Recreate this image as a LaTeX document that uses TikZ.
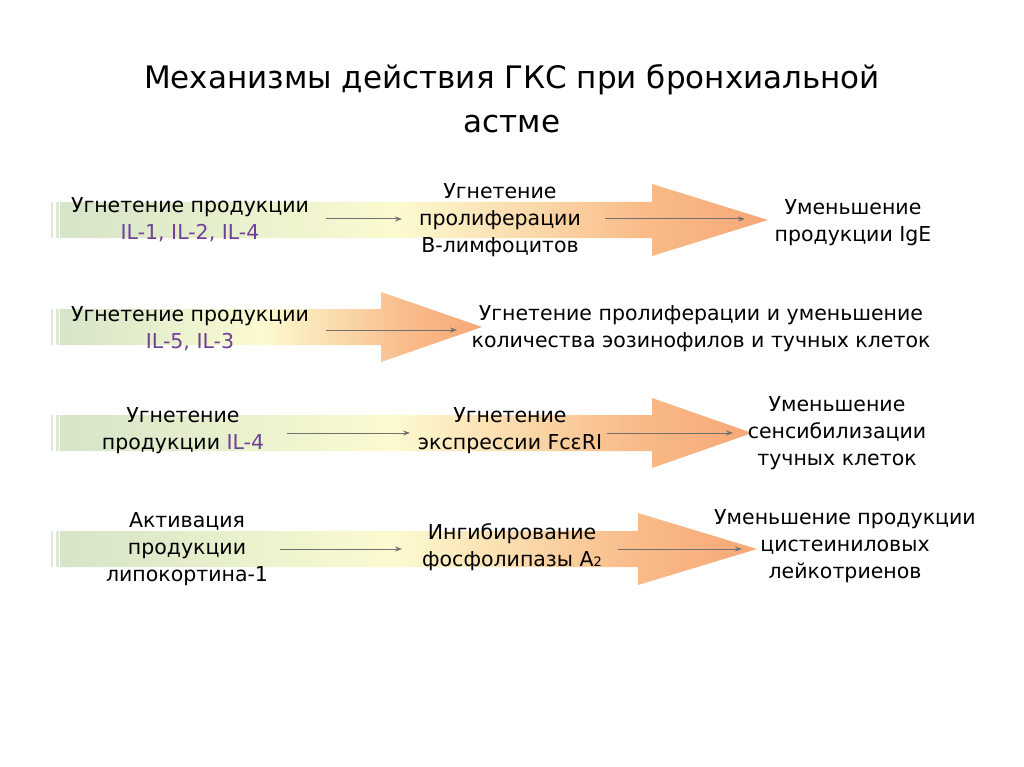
\documentclass[tikz,border=0pt]{standalone}
\usepackage{fontspec}
\setmainfont{DejaVu Sans}
\usetikzlibrary{arrows.meta}
\definecolor{ilpurple}{RGB}{112,64,150}
\definecolor{sgA}{RGB}{214,228,200}
\definecolor{sgB}{RGB}{236,243,206}
\definecolor{sgC}{RGB}{252,250,208}
\definecolor{sgD}{RGB}{251,222,176}
\definecolor{sgE}{RGB}{249,188,138}
\definecolor{sgF}{RGB}{247,168,118}
\definecolor{stripe}{RGB}{222,232,214}
\definecolor{thin}{RGB}{112,112,112}
\pgfdeclarehorizontalshading{gksshade}{100bp}{color(0bp)=(sgA); color(25bp)=(sgA); color(40bp)=(sgB); color(49bp)=(sgC); color(57bp)=(sgD); color(66bp)=(sgE); color(75bp)=(sgF); color(100bp)=(sgF)}
\newcommand\gksarrow[6]{%
  \shade[shading=gksshade] (#1,#4-#5) -- (#2,#4-#5) -- (#2,#4-#6) -- (#3,#4) -- (#2,#4+#6) -- (#2,#4+#5) -- (#1,#4+#5) -- cycle;
  \fill[stripe] (51,#4-#5) rectangle (53,#4+#5);
  \fill[stripe] (56,#4-#5) rectangle (58.5,#4+#5);
}
\tikzset{
  txt/.style={align=center, font=\fontsize{20.5}{27}\selectfont, inner sep=0pt},
  ttl/.style={align=center, font=\fontsize{31}{44}\selectfont, inner sep=0pt},
  conn/.style={draw=thin, line width=1pt, -{Stealth[length=7pt,width=5pt]}},
}
\newcommand\il[1]{\textcolor{ilpurple}{#1}}
\begin{document}
\begin{tikzpicture}[x=1pt,y=-1pt]
\useasboundingbox[fill=white] (0,0) rectangle (1024,767);
% big arrows
\gksarrow{60}{652}{768}{220}{18}{36}
\gksarrow{60}{381}{482}{327}{18}{35}
\gksarrow{60}{652}{752}{433}{18}{35}
\gksarrow{60}{638}{757}{549}{18}{36}
% title
\node[ttl] (title) at (512,99) {Механизмы действия ГКС при бронхиальной\\астме};
% row 1
\node[txt] (r1a) at (190,220) {Угнетение продукции\\\il{IL-1, IL-2, IL-4}};
\node[txt] (r1b) at (500,220) {Угнетение\\пролиферации\\В-лимфоцитов};
\node[txt] (r1c) at (853,223) {Уменьшение\\продукции IgE};
% row 2
\node[txt] (r2a) at (190,329) {Угнетение продукции\\\il{IL-5, IL-3}};
\node[txt] (r2b) at (701,329) {Угнетение пролиферации и уменьшение\\количества эозинофилов и тучных клеток};
% row 3
\node[txt] (r3a) at (183,431) {Угнетение\\продукции \il{IL-4}};
\node[txt] (r3b) at (510,431) {Угнетение\\экспрессии FcεRI};
\node[txt] (r3c) at (837,433) {Уменьшение\\сенсибилизации\\тучных клеток};
% row 4
\node[txt] (r4a) at (187,549) {Активация\\продукции\\липокортина-1};
\node[txt] (r4b) at (512,547) {Ингибирование\\фосфолипазы A{\fontsize{13}{13}\selectfont 2}};
\node[txt] (r4c) at (845,546) {Уменьшение продукции\\цистеиниловых\\лейкотриенов};
% connector ends
\coordinate (c1s) at (326,219); \coordinate (c1e) at (402,219);
\coordinate (c2s) at (605,219); \coordinate (c2e) at (745,219);
\coordinate (c3s) at (326,330); \coordinate (c3e) at (457,330);
\coordinate (c4s) at (287,433); \coordinate (c4e) at (410,433);
\coordinate (c5s) at (607,433); \coordinate (c5e) at (733,433);
\coordinate (c6s) at (280,549); \coordinate (c6e) at (402,549);
\coordinate (c7s) at (618,549); \coordinate (c7e) at (742,549);
\draw[conn] (c1s) -- (c1e);
\draw[conn] (c2s) -- (c2e);
\draw[conn] (c3s) -- (c3e);
\draw[conn] (c4s) -- (c4e);
\draw[conn] (c5s) -- (c5e);
\draw[conn] (c6s) -- (c6e);
\draw[conn] (c7s) -- (c7e);
\end{tikzpicture}
\end{document}
